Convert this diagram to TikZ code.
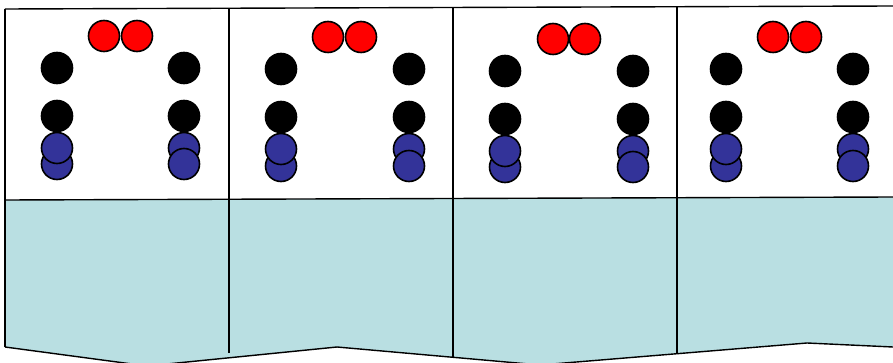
\documentclass[tikz,border=0pt]{standalone}
\definecolor{waterfill}{RGB}{185,223,226}
\definecolor{ionblue}{RGB}{51,51,153}
\definecolor{ionred}{RGB}{255,0,0}
\tikzset{
  ball/.style={circle,draw=black,line width=1.6pt,minimum size=31pt,inner sep=0pt},
  redball/.style={ball,fill=ionred},
  blackball/.style={ball,fill=black},
  blueball/.style={ball,fill=ionblue},
  edge/.style={draw=black,line width=1.4pt}
}
\begin{document}
\begin{tikzpicture}[x=1pt,y=-1pt]
\useasboundingbox (0,0) rectangle (893,363);
\clip (0,0) rectangle (893,363);
% water region
\coordinate (wl) at (5,200);
\coordinate (wr) at (893,197);
\coordinate (b0) at (5,347);
\coordinate (b1) at (147,366);
\coordinate (b2) at (337,347);
\coordinate (b3) at (540,365);
\coordinate (b4) at (807,343);
\coordinate (b5) at (893,347);
\fill[waterfill] (wl) -- (wr) -- (b5) -- (b4) -- (b3) -- (b2) -- (b1) -- (b0) -- cycle;
\draw[edge] (b0) -- (b1) -- (b2) -- (b3) -- (b4) -- (b5);
% top and boundary lines
\coordinate (tl) at (5,9);
\coordinate (tr) at (893,6);
\draw[edge] (tl) -- (tr);
\draw[edge] (wl) -- (wr);
% left edge and dividers
\draw[edge] (tl) -- (b0);
\draw[line width=2.6pt] (5,200) -- (5,232);
\coordinate (d1t) at (229,8.2);
\coordinate (d1b) at (229,353);
\coordinate (d2t) at (453,7.5);
\coordinate (d2b) at (453,357);
\coordinate (d3t) at (677,6.7);
\coordinate (d3b) at (677,353);
\draw[edge] (d1t) -- (d1b);
\draw[edge] (d2t) -- (d2b);
\draw[edge] (d3t) -- (d3b);
% panel 1
\node[redball] (r1a) at (104,36) {};
\node[redball] (r1b) at (137,36) {};
\node[blackball] (k1a) at (57,68) {};
\node[blackball] (k1b) at (184,68) {};
\node[blackball] (k1c) at (57,116) {};
\node[blackball] (k1d) at (184,116) {};
\node[blueball] (u1b) at (57,164) {};
\node[blueball] (u1a) at (57,148) {};
\node[blueball] (u1c) at (184,148) {};
\node[blueball] (u1d) at (184,164) {};
% panel 2
\node[redball] (r2a) at (328,37) {};
\node[redball] (r2b) at (361,37) {};
\node[blackball] (k2a) at (281,69) {};
\node[blackball] (k2b) at (409,69) {};
\node[blackball] (k2c) at (281,117) {};
\node[blackball] (k2d) at (409,117) {};
\node[blueball] (u2b) at (281,166) {};
\node[blueball] (u2a) at (281,149) {};
\node[blueball] (u2c) at (409,149) {};
\node[blueball] (u2d) at (409,166) {};
% panel 3
\node[redball] (r3a) at (553,39) {};
\node[redball] (r3b) at (585,39) {};
\node[blackball] (k3a) at (505,71) {};
\node[blackball] (k3b) at (633,71) {};
\node[blackball] (k3c) at (505,119) {};
\node[blackball] (k3d) at (633,119) {};
\node[blueball] (u3b) at (505,167) {};
\node[blueball] (u3a) at (505,151) {};
\node[blueball] (u3c) at (633,151) {};
\node[blueball] (u3d) at (633,167) {};
% panel 4
\node[redball] (r4a) at (773,37) {};
\node[redball] (r4b) at (806,37) {};
\node[blackball] (k4a) at (726,69) {};
\node[blackball] (k4b) at (853,69) {};
\node[blackball] (k4c) at (726,117) {};
\node[blackball] (k4d) at (853,117) {};
\node[blueball] (u4b) at (726,166) {};
\node[blueball] (u4a) at (726,149) {};
\node[blueball] (u4c) at (853,149) {};
\node[blueball] (u4d) at (853,166) {};
\end{tikzpicture}
\end{document}
